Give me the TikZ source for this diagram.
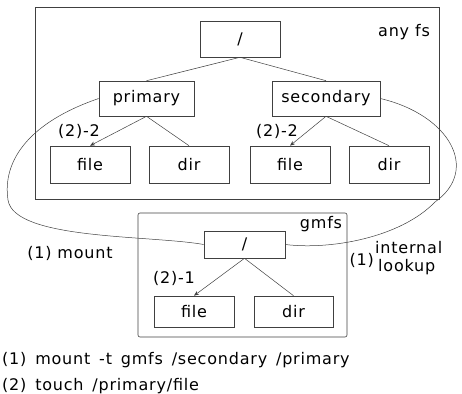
\documentclass[tikz,border=0pt]{standalone}
\usepackage{fontspec}
\setmainfont{DejaVu Sans}[LetterSpace=5]
\usetikzlibrary{arrows.meta}
\newcommand\widespaces{\spaceskip=0.55em\relax}
\begin{document}
\begin{tikzpicture}[x=1pt,y=-1pt,
  box/.style={draw=black!75, line width=0.6pt, inner sep=0pt, font=\fontsize{16}{19}\selectfont},
  frame/.style={draw=black!75, line width=0.6pt},
  lbl/.style={inner sep=0pt, font=\fontsize{16}{19}\selectfont},
  cmd/.style={lbl, anchor=west},
  conn/.style={draw=black!75, line width=0.5pt},
  arr/.style={conn, -{Stealth[length=5pt,width=4pt]}}]
\useasboundingbox (0,0) rectangle (462,393);
% frames
\draw[frame] (35,7) rectangle (439,199);
\draw[frame, rounded corners=2pt] (138,213) rectangle (347,337);
\node[lbl] (anyfs) at (404,32) {any fs};
\node[lbl] (gmfs) at (321,224) {gmfs};
% any fs tree
\node[box, minimum width=80pt, minimum height=36pt] (root) at (240,39) {/};
\node[box, minimum width=95pt, minimum height=35pt] (primary) at (146.5,98.5) {primary};
\node[box, minimum width=108pt, minimum height=35pt] (secondary) at (326,98.5) {secondary};
\node[box, minimum width=80pt, minimum height=37pt] (file1) at (90,164.5) {file};
\node[box, minimum width=80pt, minimum height=37pt] (dir1) at (189,164.5) {dir};
\node[box, minimum width=80pt, minimum height=37pt] (file2) at (290,164.5) {file};
\node[box, minimum width=80pt, minimum height=37pt] (dir2) at (389,164.5) {dir};
% gmfs tree
\node[box, minimum width=81pt, minimum height=27pt] (groot) at (244.5,244.5) {/};
\node[box, minimum width=80pt, minimum height=31pt] (file3) at (194,311.5) {file};
\node[box, minimum width=79pt, minimum height=31pt] (dir3) at (293.5,311.5) {dir};
% edges
\draw[conn] (root.south) -- (primary.north);
\draw[conn] (root.south) -- (secondary.north);
\draw[arr] (primary.south) -- (file1.north);
\draw[conn] (primary.south) -- (dir1.north);
\draw[arr] (secondary.south) -- (file2.north);
\draw[conn] (secondary.south) -- (dir2.north);
\draw[arr] (groot.south) -- (file3.north);
\draw[conn] (groot.south) -- (dir3.north);
% curves
\draw[conn] (primary.west) .. controls (30,122) and (2,160) .. (8,200)
  .. controls (14,240) and (150,235) .. (groot.west);
\draw[conn] (secondary.east) .. controls (450,115) and (480,170) .. (435,202)
  .. controls (400,238) and (330,250) .. (groot.east);
% labels
\node[lbl] (l22a) at (79,131) {(2)-2};
\node[lbl] (l22b) at (277,131) {(2)-2};
\node[lbl] (l21) at (174,278) {(2)-1};
\node[lbl] (mount) at (70,253) {(1) mount};
\node[lbl, anchor=east] (one) at (374,260) {(1)};
\node[lbl, anchor=west] (internal) at (375,248) {internal};
\node[lbl, anchor=west] (lookup) at (378,267) {lookup};
\node[cmd] (cmd1) at (2,360) {\widespaces (1) mount -t gmfs /secondary /primary};
\node[cmd] (cmd2) at (2,386) {\widespaces (2) touch /primary/file};
\end{tikzpicture}
\end{document}
